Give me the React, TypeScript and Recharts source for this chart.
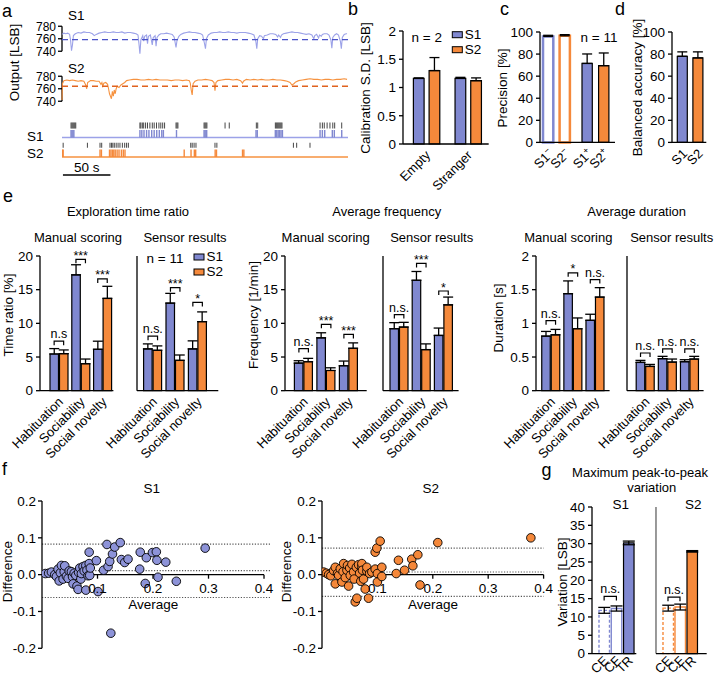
import React from "react";
import {
  Bar,
  Cell,
  ComposedChart,
  ErrorBar,
  Line,
  LineChart,
  ReferenceLine,
  Scatter,
  ScatterChart,
  XAxis,
  YAxis,
} from "recharts";

const FONT = "'Liberation Sans', Arial, sans-serif";
const S1_COLOR = "#8088d0";
const S2_COLOR = "#f5893b";
const S1_TRACE = "#9ca2e8";
const S2_TRACE = "#f6923f";

// ---- panel a: raw sensor output (time s, LSB) ----
const s1Trace: [number, number][] = [
  [0, 767], [2, 769], [4, 768], [6, 769], [8, 767], [9, 758], [10, 741], [11, 750], [12, 765], [14, 768],
  [17, 770], [20, 769], [23, 771], [26, 770], [29, 770], [32, 768], [34, 765], [36, 767], [39, 769], [42, 770],
  [45, 771], [48, 770], [51, 770], [54, 771], [57, 770], [60, 770], [63, 771], [66, 769], [69, 770], [72, 770],
  [75, 769], [78, 768], [80, 766], [81, 752], [82, 736], [83, 758], [85, 765], [86, 756], [87, 764], [89, 766],
  [90, 752], [91, 764], [93, 766], [95, 750], [96, 762], [98, 765], [99, 748], [100, 762], [102, 766], [104, 768],
  [107, 768], [110, 769], [113, 768], [116, 767], [118, 763], [120, 746], [121, 757], [123, 764], [125, 767], [128, 769],
  [131, 770], [134, 771], [137, 770], [140, 770], [143, 769], [146, 768], [148, 766], [150, 752], [151, 744], [152, 760],
  [154, 766], [157, 769], [160, 770], [163, 770], [166, 771], [169, 770], [172, 770], [175, 771], [178, 770], [181, 770],
  [184, 769], [187, 770], [190, 770], [193, 770], [196, 769], [199, 768], [202, 766], [204, 756], [205, 744], [206, 760],
  [208, 765], [210, 764], [212, 760], [213, 765], [216, 766], [219, 768], [222, 768], [225, 767], [227, 763], [228, 766],
  [230, 762], [231, 766], [233, 768], [236, 769], [239, 770], [242, 771], [245, 770], [248, 770], [251, 769], [254, 768],
  [257, 767], [260, 768], [263, 766], [265, 760], [266, 765], [268, 767], [270, 761], [271, 766], [273, 764], [274, 767],
  [276, 768], [279, 768], [281, 766], [283, 758], [284, 745], [285, 762], [287, 766], [289, 768], [291, 766], [293, 756],
  [294, 744], [295, 762], [297, 767], [299, 768], [300, 768],
];
const s2Trace: [number, number][] = [
  [0, 742], [0.5, 768], [2, 773], [5, 774], [8, 773], [11, 774], [14, 773], [17, 772], [20, 773], [23, 772],
  [25, 766], [26, 760], [27, 770], [30, 773], [33, 773], [36, 772], [39, 772], [41, 767], [42, 770], [43, 764],
  [44, 769], [46, 770], [48, 767], [49, 760], [50, 752], [51, 748], [52, 744], [53, 756], [54, 748], [55, 758],
  [56, 752], [57, 760], [58, 764], [60, 762], [62, 766], [64, 768], [66, 770], [68, 773], [71, 774], [75, 775],
  [79, 775], [83, 774], [87, 774], [91, 775], [95, 774], [99, 775], [103, 774], [107, 774], [111, 774], [115, 773],
  [119, 774], [123, 774], [127, 773], [131, 774], [134, 773], [135, 769], [136, 758], [137, 750], [138, 768], [140, 772],
  [143, 774], [147, 774], [151, 775], [155, 774], [158, 773], [160, 770], [161, 757], [162, 770], [164, 773], [168, 774],
  [172, 775], [176, 775], [180, 774], [184, 775], [188, 773], [190, 769], [191, 772], [194, 775], [198, 774], [202, 775],
  [206, 774], [210, 775], [214, 774], [218, 774], [222, 775], [226, 774], [230, 774], [234, 773], [237, 772], [240, 770],
  [242, 766], [244, 768], [246, 771], [249, 773], [253, 774], [257, 775], [261, 776], [265, 775], [269, 775], [273, 774],
  [277, 775], [281, 775], [285, 774], [289, 775], [293, 775], [297, 776], [300, 775],
];
const s1Threshold = 758.5;
const s2Threshold = 764;

const s1ManualEvents = [9.5, 10.5, 11.5, 12.5, 13.5, 14.5, 82, 83, 84.5, 86, 88, 90, 92.5, 95, 97, 99.5, 102, 104, 106, 108, 120, 121, 122, 149.5, 150.5, 151.5, 152.5, 171.6, 176, 204.5, 206, 224.5, 225.5, 226.5, 227.5, 228.5, 229.5, 230.5, 231.5, 271.6, 274, 276, 279, 282, 285, 287, 294.4];
const s1SensorEvents = [9.5, 10.5, 11.5, 12.5, 82, 84, 86.3, 89, 91.5, 94.4, 97, 99.7, 102.4, 105, 106.7, 120.5, 149.5, 150.5, 151.5, 152.3, 204.2, 205.5, 224.5, 226, 227.5, 229, 230.5, 232, 271.6, 274, 276.5, 284.5, 286.6, 294.4];
const s2ManualEvents = [1.2, 26.7, 40, 41.8, 50.5, 52, 53.5, 55, 57, 59, 61, 63.5, 66, 68, 69.8, 135.5, 137, 139, 141, 161, 163, 243.5, 247, 261];
const s2SensorEvents = [0.5, 1.2, 40, 41.5, 50, 51.5, 53, 54.5, 56, 58, 60, 62.5, 64.5, 66.3, 128.6, 135.8, 139.3, 140.7, 161.2, 162.6, 190, 191.4];

// ---- panel b: calibration S.D. ----
const calibCats = ["Empty", "Stranger"];
const calibS1 = [1.16, 1.16];
const calibS1Err = [0.01, 0.02];
const calibS2 = [1.3, 1.12];
const calibS2Err = [0.23, 0.05];

// ---- panel c: precision ----
const precCats = ["−", "+"];
const precS1 = [96, 71.5];
const precS1Err = [1, 8.6];
const precS2 = [96.6, 69.5];
const precS2Err = [1, 11.5];

// ---- panel d: balanced accuracy ----
const accCats = ["acc"];
const accS1 = [78];
const accS1Err = [4];
const accS2 = [76.5];
const accS2Err = [5.5];

// ---- panel e ----
const phases = ["Habituation", "Sociability", "Social novelty"];

const ratioManualS1 = [5.45, 17.2, 6.15];
const ratioManualS1Err = [0.8, 1.5, 1.2];
const ratioManualS2 = [5.5, 4.0, 13.7];
const ratioManualS2Err = [0.55, 0.7, 1.8];
const ratioManualBr = [7.35, 19.5, 16.6];
const ratioManualSig = ["n.s", "***", "***"];

const ratioSensorS1 = [6.2, 13.0, 6.2];
const ratioSensorS1Err = [0.75, 1.45, 1.2];
const ratioSensorS2 = [6.0, 4.5, 10.25];
const ratioSensorS2Err = [0.65, 0.8, 1.45];
const ratioSensorBr = [8.1, 15.3, 13.1];
const ratioSensorSig = ["n.s.", "***", "*"];

const freqManualS1 = [4.1, 7.85, 3.7];
const freqManualS1Err = [0.35, 0.75, 0.7];
const freqManualS2 = [4.3, 3.0, 6.3];
const freqManualS2Err = [0.5, 0.4, 0.8];
const freqManualBr = [6.26, 9.85, 8.35];
const freqManualSig = ["n.s.", "***", "***"];

const freqSensorS1 = [9.2, 16.4, 8.2];
const freqSensorS1Err = [0.9, 1.3, 1.1];
const freqSensorS2 = [9.45, 6.1, 12.75];
const freqSensorS2Err = [0.7, 0.85, 1.15];
const freqSensorBr = [11.3, 18.9, 14.8];
const freqSensorSig = ["n.s.", "***", "*"];

const durManualS1 = [0.81, 1.44, 1.045];
const durManualS1Err = [0.07, 0.19, 0.09];
const durManualS2 = [0.83, 0.92, 1.39];
const durManualS2Err = [0.08, 0.16, 0.14];
const durManualBr = [1.04, 1.75, 1.65];
const durManualSig = ["n.s.", "*", "n.s."];

const durSensorS1 = [0.42, 0.475, 0.43];
const durSensorS1Err = [0.03, 0.035, 0.03];
const durSensorS2 = [0.36, 0.425, 0.47];
const durSensorS2Err = [0.03, 0.045, 0.04];
const durSensorBr = [0.56, 0.62, 0.62];
const durSensorSig = ["n.s.", "n.s.", "n.s."];

// ---- panel f: Bland-Altman (average, difference) ----
const s1Agreement: [number, number][] = [
  [0.006, 0.003], [0.012, 0.004], [0.017, 0.007], [0.023, 0.0], [0.026, -0.005], [0.029, 0.015], [0.031, -0.017],
  [0.033, 0.005], [0.035, 0.025], [0.038, -0.012], [0.04, 0.008], [0.041, 0.024], [0.044, -0.004], [0.047, -0.01],
  [0.049, 0.01], [0.053, 0.008], [0.055, -0.006], [0.056, -0.025], [0.058, 0.004], [0.061, -0.002], [0.063, -0.031],
  [0.065, -0.04], [0.066, 0.006], [0.068, 0.018], [0.07, -0.012], [0.071, 0.003], [0.074, 0.022], [0.076, 0.01],
  [0.079, 0.025], [0.079, -0.042], [0.081, 0.012], [0.083, -0.003], [0.085, 0.03], [0.085, 0.061], [0.086, -0.002],
  [0.087, 0.018], [0.098, 0.038], [0.101, -0.046], [0.111, 0.012], [0.117, 0.082], [0.119, 0.022], [0.122, 0.036],
  [0.124, -0.159], [0.127, 0.056], [0.131, 0.075], [0.141, 0.087], [0.143, 0.041], [0.149, 0.033], [0.155, 0.042],
  [0.176, 0.015], [0.177, 0.061], [0.186, -0.024], [0.188, 0.046], [0.199, 0.06], [0.206, 0.062], [0.207, 0.039],
  [0.209, -0.007], [0.223, 0.034], [0.242, -0.018], [0.294, 0.072],
];
const s2Agreement: [number, number][] = [
  [0.003, 0.007], [0.008, 0.004], [0.012, 0.0], [0.016, -0.003], [0.021, 0.011], [0.024, 0.02], [0.024, -0.025],
  [0.028, 0.003], [0.03, -0.002], [0.033, 0.016], [0.036, -0.02], [0.038, 0.008], [0.039, 0.03], [0.042, -0.008],
  [0.045, 0.012], [0.046, 0.025], [0.048, -0.031], [0.05, 0.018], [0.051, -0.002], [0.054, 0.028], [0.057, 0.007],
  [0.058, -0.012], [0.06, -0.074], [0.062, 0.02], [0.063, -0.064], [0.066, 0.027], [0.068, 0.004], [0.07, -0.018],
  [0.072, 0.022], [0.072, 0.03], [0.073, 0.012], [0.075, -0.012], [0.078, -0.039], [0.081, 0.009], [0.081, 0.02],
  [0.084, -0.064], [0.086, 0.003], [0.09, 0.007], [0.096, 0.061], [0.096, 0.015], [0.099, 0.072], [0.1, 0.003],
  [0.1, -0.02], [0.105, 0.091], [0.108, 0.02], [0.108, -0.005], [0.134, 0.003], [0.138, 0.039], [0.149, 0.012],
  [0.162, 0.042], [0.164, 0.024], [0.173, 0.054], [0.177, -0.028], [0.209, 0.087], [0.377, 0.1],
];
const s1Limits = [0.083, 0.011, -0.062];
const s2Limits = [0.072, 0.007, -0.059];
const diffTicks = [-0.2, -0.1, 0, 0.1, 0.2];
const avgTicks = [0.1, 0.2, 0.3, 0.4];

// ---- panel g: peak-to-peak variation ----
const variationCats = ["CE", "CF", "TR"];
const variationS1 = [11.8, 12.3, 30.2];
const variationS1Err = [0.8, 0.7, 0.5];
const variationS2 = [12.4, 12.7, 27.9];
const variationS2Err = [0.8, 0.8, 0.2];
const variationBr = [15.6, 15.4];

const axisLine = { stroke: "#000", strokeWidth: 1.3 };
const tickLine = { stroke: "#000", strokeWidth: 1.3 };
const tickStyle = { fill: "#000", fontSize: 13.5, fontFamily: FONT };

type Rect = { x0: number; y0: number; x1: number; y1: number };

function groupRows(cats: string[], s1: number[], s1e: number[], s2: number[], s2e: number[], br?: number[], sig?: string[]) {
  return cats.map((name, i) => ({
    name,
    s1: s1[i],
    s1e: [0, s1e[i]],
    s2: s2[i],
    s2e: [0, s2e[i]],
    br: br ? br[i] : null,
    sig: sig ? sig[i] : "",
  }));
}

function Bracket(props: any) {
  const { cx, cy, payload, a, b } = props;
  if (cx == null || cy == null || Number.isNaN(cy) || !payload?.sig) return null;
  const stars = payload.sig.includes("*");
  const mid = cx + (a + b) / 2;
  return (
    <g>
      <path d={`M${cx + a},${cy + 4}V${cy}H${cx + b}V${cy + 4}`} fill="none" stroke="#000" strokeWidth={1.2} />
      <text x={mid} y={stars ? cy + 0.5 : cy - 3} textAnchor="middle" fontSize={12.5} fontFamily={FONT} fill="#000">
        {payload.sig}
      </text>
    </g>
  );
}

function RotTick(props: any) {
  const { x, y, payload, oy = 12 } = props;
  return (
    <text transform={`translate(${x + 5},${y + oy}) rotate(-45)`} textAnchor="end" fontSize={13} fontFamily={FONT} fill="#000">
      {payload.value}
    </text>
  );
}

function PairTick(props: any) {
  const { x, y, payload, half, sup } = props;
  return (
    <g>
      {["S1", "S2"].map((l, i) => (
        <text key={l} transform={`translate(${x + (i ? half : -half) + 6},${y + 12}) rotate(-45)`} textAnchor="end" fontSize={13} fontFamily={FONT} fill="#000">
          {l}
          {sup && <tspan dy={-5} fontSize={9}>{payload.value}</tspan>}
        </text>
      ))}
    </g>
  );
}

function GroupBars({ rect, rows, yMax, yTicks, showLabels = true, padL, padR, barSize, barGap, tick, cells, brackets = true }: any) {
  const YW = 52, TM = 30, RM = 16, XH = 90;
  const w = rect.x1 - rect.x0 + YW + RM;
  const h = rect.y1 - rect.y0 + TM + XH;
  const half = (barSize + barGap) / 2;
  return (
    <div style={{ position: "absolute", left: rect.x0 - YW, top: rect.y0 - TM }}>
      <ComposedChart width={w} height={h} data={rows} margin={{ top: TM, right: RM, bottom: 0, left: 0 }} barSize={barSize} barGap={barGap}>
        <XAxis dataKey="name" height={XH} padding={{ left: padL, right: padR }} axisLine={axisLine} tickLine={false} tickSize={0} tickMargin={0} interval={0} tick={tick ?? <RotTick />} />
        <YAxis width={YW} domain={[0, yMax]} ticks={yTicks} interval={0} axisLine={axisLine} tickLine={tickLine} tickSize={4} tickMargin={3} tick={showLabels ? tickStyle : false} />
        <Bar dataKey="s1" fill={S1_COLOR} stroke="#000" strokeWidth={1.2} isAnimationActive={false}>
          {cells && rows.map((_: any, i: number) => <Cell key={i} {...cells(0, i)} />)}
          <ErrorBar dataKey="s1e" width={5} stroke="#000" strokeWidth={1.3} direction="y" />
        </Bar>
        <Bar dataKey="s2" fill={S2_COLOR} stroke="#000" strokeWidth={1.2} isAnimationActive={false}>
          {cells && rows.map((_: any, i: number) => <Cell key={i} {...cells(1, i)} />)}
          <ErrorBar dataKey="s2e" width={5} stroke="#000" strokeWidth={1.3} direction="y" />
        </Bar>
        {brackets && <Scatter dataKey="br" isAnimationActive={false} shape={(p: any) => <Bracket {...p} a={-half} b={half} />} />}
      </ComposedChart>
    </div>
  );
}

function VariationBars({ rect, values, errs, color, br, padL, padR, showLabels }: any) {
  const YW = 52, TM = 30, RM = 16, XH = 40;
  const w = rect.x1 - rect.x0 + YW + RM;
  const h = rect.y1 - rect.y0 + TM + XH;
  const spacing = (rect.x1 - rect.x0 - padL - padR) / variationCats.length;
  const rows = variationCats.map((name, i) => ({ name, v: values[i], e: errs[i], br: i === 0 ? br : null, sig: i === 0 ? "n.s." : "" }));
  return (
    <div style={{ position: "absolute", left: rect.x0 - YW, top: rect.y0 - TM }}>
      <ComposedChart width={w} height={h} data={rows} margin={{ top: TM, right: RM, bottom: 0, left: 0 }} barSize={10.5}>
        <XAxis dataKey="name" height={XH} padding={{ left: padL, right: padR }} axisLine={axisLine} tickLine={false} tickSize={0} tickMargin={0} interval={0} tick={<RotTick oy={8} />} />
        <YAxis width={YW} domain={[0, 40]} ticks={[0, 5, 10, 15, 20, 25, 30, 35, 40]} interval={0} axisLine={{ stroke: "#000", strokeWidth: showLabels ? 1.3 : 0.8 }} tickLine={showLabels ? tickLine : false} tickSize={4} tickMargin={3} tick={showLabels ? tickStyle : false} />
        <Bar dataKey="v" isAnimationActive={false}>
          <Cell fill="#fff" stroke={color} strokeWidth={1.4} strokeDasharray="3 2" />
          <Cell fill="#fff" stroke={color} strokeWidth={1.4} />
          <Cell fill={color} stroke="#000" strokeWidth={1.2} />
          <ErrorBar dataKey="e" width={6} stroke="#000" strokeWidth={1.3} direction="y" />
        </Bar>
        <Scatter dataKey="br" isAnimationActive={false} shape={(p: any) => <Bracket {...p} a={0} b={spacing} />} />
      </ComposedChart>
    </div>
  );
}

function DiffPlot({ rect, xMax, pts, color, limits }: any) {
  const YW = 50, TM = 10, RM = 10, BM = 30;
  const w = rect.x1 - rect.x0 + YW + RM;
  const h = rect.y1 - rect.y0 + TM + BM;
  const data = pts.map(([avg, diff]: [number, number]) => ({ avg, diff }));
  return (
    <div style={{ position: "absolute", left: rect.x0 - YW, top: rect.y0 - TM }}>
      <ScatterChart width={w} height={h} margin={{ top: TM, right: RM, bottom: BM, left: 0 }}>
        <XAxis type="number" dataKey="avg" domain={[0, xMax]} allowDataOverflow hide />
        <YAxis type="number" dataKey="diff" domain={[-0.2, 0.2]} ticks={diffTicks} interval={0} tickFormatter={(v: number) => v.toFixed(1)} width={YW} axisLine={axisLine} tickLine={tickLine} tickSize={4} tickMargin={2} tick={tickStyle} />
        {limits.map((v: number) => (
          <ReferenceLine key={v} y={v} stroke="#555" strokeDasharray="1.2 1.6" strokeWidth={1.1} />
        ))}
        <ReferenceLine segment={[{ x: 0, y: 0 }, { x: 0.4, y: 0 }]} stroke="#000" strokeWidth={1.3} />
        {avgTicks.map((v) => (
          <ReferenceLine
            key={v}
            segment={[{ x: v, y: 0 }, { x: v, y: -0.011 }]}
            stroke="#000"
            strokeWidth={1.3}
            label={{ value: v.toFixed(1), position: "bottom", offset: 5, fill: "#000", fontSize: 13.5, fontFamily: FONT }}
          />
        ))}
        <Scatter data={data} isAnimationActive={false} shape={(p: any) => <circle cx={p.cx} cy={p.cy} r={4.3} fill={color} stroke="#000" strokeWidth={0.9} />} />
      </ScatterChart>
    </div>
  );
}

function TracePlot({ rect, pts, color, dashColor, threshold }: any) {
  const YW = 40, TM = 9, RM = 2, BM = 9;
  const w = rect.x1 - rect.x0 + YW + RM;
  const h = rect.y1 - rect.y0 + TM + BM;
  const data = pts.map(([t, v]: [number, number]) => ({ t, v }));
  return (
    <div style={{ position: "absolute", left: rect.x0 - YW, top: rect.y0 - TM }}>
      <LineChart width={w} height={h} data={data} margin={{ top: TM, right: RM, bottom: BM, left: 0 }}>
        <XAxis type="number" dataKey="t" domain={[0, 301]} hide />
        <YAxis
          type="number"
          domain={[734, 782]}
          ticks={[740, 760, 780]}
          interval={0}
          allowDataOverflow
          width={YW}
          axisLine={false}
          tickLine={tickLine}
          tickSize={4}
          tickMargin={2}
          tick={{ ...tickStyle, fontSize: 12 }}
        />
        <ReferenceLine segment={[{ x: 0, y: 740 }, { x: 0, y: 780 }]} stroke="#000" strokeWidth={1.3} />
        <Line dataKey="v" type="linear" stroke={color} strokeWidth={1.1} dot={false} isAnimationActive={false} />
        <ReferenceLine y={threshold} stroke={dashColor} strokeDasharray="6 4" strokeWidth={1.3} />
      </LineChart>
    </div>
  );
}

function eventShape(color: string, width: number, height: number) {
  return (p: any) => <rect x={p.cx - width / 2} y={p.cy - height / 2} width={width} height={height} fill={color} />;
}

function Raster({ rect }: { rect: Rect }) {
  const w = rect.x1 - rect.x0;
  const h = rect.y1 - rect.y0;
  return (
    <div style={{ position: "absolute", left: rect.x0, top: rect.y0 }}>
      <ScatterChart width={w} height={h} margin={{ top: 0, right: 0, bottom: 0, left: 0 }}>
        <XAxis type="number" dataKey="t" domain={[0, 301]} hide />
        <YAxis type="number" dataKey="y" domain={[-20, 40]} hide />
        <ReferenceLine segment={[{ x: 0, y: 22.5 }, { x: 301, y: 22.5 }]} stroke={S1_TRACE} strokeWidth={1.3} />
        <ReferenceLine segment={[{ x: 0, y: 3 }, { x: 301, y: 3 }]} stroke={S2_TRACE} strokeWidth={1.3} />
        <ReferenceLine
          segment={[{ x: 1, y: -15 }, { x: 51, y: -15 }]}
          stroke="#000"
          strokeWidth={1.3}
          label={{ value: "50 s", position: "top", offset: 3, fill: "#000", fontSize: 13.5, fontFamily: FONT }}
        />
        <Scatter data={s1ManualEvents.map((t) => ({ t, y: 34.5 }))} isAnimationActive={false} shape={eventShape("#333", 0.9, 6)} />
        <Scatter data={s1SensorEvents.map((t) => ({ t, y: 26.25 }))} isAnimationActive={false} shape={eventShape(S1_COLOR, 1.4, 7.5)} />
        <Scatter data={s2ManualEvents.map((t) => ({ t, y: 14.75 }))} isAnimationActive={false} shape={eventShape("#333", 0.9, 5)} />
        <Scatter data={s2SensorEvents.map((t) => ({ t, y: 6.75 }))} isAnimationActive={false} shape={eventShape(S2_COLOR, 1.4, 7.5)} />
      </ScatterChart>
    </div>
  );
}

function Txt({ x, y, s, size = 13, anchor = "middle", rot = false }: any) {
  return (
    <text
      x={rot ? 0 : x}
      y={rot ? 0 : y}
      transform={rot ? `translate(${x},${y}) rotate(-90)` : undefined}
      textAnchor={anchor}
      fontSize={size}
      fontFamily={FONT}
      fill="#000"
    >
      {s}
    </text>
  );
}

function LegendKey({ x, y }: { x: number; y: number }) {
  return (
    <g>
      <rect x={x} y={y} width={10} height={6} fill={S1_COLOR} stroke="#000" strokeWidth={1} />
      <Txt x={x + 12.5} y={y + 7} s="S1" size={13.5} anchor="start" />
      <rect x={x} y={y + 15} width={10} height={6} fill={S2_COLOR} stroke="#000" strokeWidth={1} />
      <Txt x={x + 12.5} y={y + 22} s="S2" size={13.5} anchor="start" />
    </g>
  );
}

function Overlay() {
  return (
    <svg width={717} height={677} style={{ position: "absolute", left: 0, top: 0, pointerEvents: "none" }}>
      {/* panel letters */}
      <Txt x={2} y={16.5} s="a" size={18} anchor="start" />
      <Txt x={348} y={15} s="b" size={18} anchor="start" />
      <Txt x={500} y={15} s="c" size={18} anchor="start" />
      <Txt x={615} y={15} s="d" size={18} anchor="start" />
      <Txt x={3} y={201.5} s="e" size={18} anchor="start" />
      <Txt x={2} y={475} s="f" size={18} anchor="start" />
      <Txt x={541.5} y={476} s="g" size={18} anchor="start" />

      {/* a */}
      <Txt x={68} y={20} s="S1" size={13.5} anchor="start" />
      <Txt x={68} y={73} s="S2" size={13.5} anchor="start" />
      <Txt x={19} y={62.5} s="Output [LSB]" size={13.5} rot />
      <Txt x={43.5} y={140.5} s="S1" size={13.5} anchor="end" />
      <Txt x={43.5} y={157.5} s="S2" size={13.5} anchor="end" />

      {/* b, c, d */}
      <Txt x={370.4} y={88} s="Calibration S.D. [LSB]" size={13.5} rot />
      <Txt x={426.7} y={41.5} s="n = 2" size={13.5} />
      <LegendKey x={452.3} y={31.7} />
      <Txt x={507} y={88} s="Precision [%]" size={13.5} rot />
      <Txt x={599} y={41.5} s="n = 11" size={13.5} />
      <Txt x={642} y={87.5} s="Balanced accuracy [%]" size={13.5} rot />

      {/* e */}
      <Txt x={128} y={216} s="Exploration time ratio" />
      <Txt x={386.7} y={216} s="Average frequency" />
      <Txt x={636.7} y={216} s="Average duration" />
      <Txt x={78} y={242} s="Manual scoring" />
      <Txt x={185} y={242} s="Sensor results" />
      <Txt x={325.7} y={242} s="Manual scoring" />
      <Txt x={431.7} y={242} s="Sensor results" />
      <Txt x={568.3} y={242} s="Manual scoring" />
      <Txt x={671.7} y={242} s="Sensor results" />
      <Txt x={13} y={315} s="Time ratio [%]" size={13.5} rot />
      <Txt x={258.4} y={315} s="Frequency [1/min]" size={13.5} rot />
      <Txt x={503} y={318} s="Duration [s]" size={13.5} rot />
      <Txt x={165} y={263.3} s="n = 11" size={13.5} />
      <LegendKey x={194} y={254} />

      {/* f */}
      <Txt x={151.7} y={493} s="S1" size={13.5} />
      <Txt x={430.7} y={493} s="S2" size={13.5} />
      <Txt x={153.3} y={609} s="Average" size={13.5} />
      <Txt x={433} y={609} s="Average" size={13.5} />
      <Txt x={12.3} y={571.7} s="Difference" size={13.5} rot />
      <Txt x={291.3} y={571.7} s="Difference" size={13.5} rot />

      {/* g */}
      <Txt x={640} y={477} s="Maximum peak-to-peak" />
      <Txt x={651.7} y={492} s="variation" />
      <Txt x={620.7} y={509} s="S1" size={13.5} />
      <Txt x={693.3} y={509} s="S2" size={13.5} />
      <Txt x={566.6} y={582} s="Variation [LSB]" size={13.5} rot />
    </svg>
  );
}

const E_TOP = 256.3;
const E_BOTTOM = 391;
const ratioTicks = [0, 5, 10, 15, 20];
const durTicks = [0, 0.5, 1, 1.5, 2];

export default function App() {
  const ePanels = [
    { rect: { x0: 40, y0: E_TOP, x1: 113.4, y1: E_BOTTOM }, pad: [8, 0], labels: true, yMax: 20, ticks: ratioTicks,
      rows: groupRows(phases, ratioManualS1, ratioManualS1Err, ratioManualS2, ratioManualS2Err, ratioManualBr, ratioManualSig) },
    { rect: { x0: 136.7, y0: E_TOP, x1: 218, y1: E_BOTTOM }, pad: [4.6, 9.5], labels: false, yMax: 20, ticks: ratioTicks,
      rows: groupRows(phases, ratioSensorS1, ratioSensorS1Err, ratioSensorS2, ratioSensorS2Err, ratioSensorBr, ratioSensorSig) },
    { rect: { x0: 285, y0: E_TOP, x1: 366.7, y1: E_BOTTOM }, pad: [7.4, 6.8], labels: true, yMax: 20, ticks: ratioTicks,
      rows: groupRows(phases, freqManualS1, freqManualS1Err, freqManualS2, freqManualS2Err, freqManualBr, freqManualSig) },
    { rect: { x0: 382.7, y0: E_TOP, x1: 458.3, y1: E_BOTTOM }, pad: [5, 4], labels: false, yMax: 20, ticks: ratioTicks,
      rows: groupRows(phases, freqSensorS1, freqSensorS1Err, freqSensorS2, freqSensorS2Err, freqSensorBr, freqSensorSig) },
    { rect: { x0: 535.7, y0: E_TOP, x1: 609.3, y1: E_BOTTOM }, pad: [3.75, 3.5], labels: true, yMax: 2, ticks: durTicks,
      rows: groupRows(phases, durManualS1, durManualS1Err, durManualS2, durManualS2Err, durManualBr, durManualSig) },
    { rect: { x0: 626.7, y0: E_TOP, x1: 703.3, y1: E_BOTTOM }, pad: [7.2, 3], labels: false, yMax: 2, ticks: durTicks,
      rows: groupRows(phases, durSensorS1, durSensorS1Err, durSensorS2, durSensorS2Err, durSensorBr, durSensorSig) },
  ];

  const precCells = (series: number, i: number) => {
    const color = series === 0 ? S1_COLOR : S2_COLOR;
    return i === 0 ? { fill: "#fff", stroke: color, strokeWidth: 2.5 } : { fill: color, stroke: "#000", strokeWidth: 1.2 };
  };

  return (
    <div style={{ position: "absolute", left: 0, top: 0, width: 717, height: 677, background: "#fff", overflow: "hidden" }}>
      <TracePlot rect={{ x0: 62, y0: 24.75, x1: 348, y1: 54.75 }} pts={s1Trace} color={S1_TRACE} dashColor="#4a52c8" threshold={s1Threshold} />
      <TracePlot rect={{ x0: 62, y0: 74.75, x1: 348, y1: 104.75 }} pts={s2Trace} color={S2_TRACE} dashColor="#e0621e" threshold={s2Threshold} />
      <Raster rect={{ x0: 62, y0: 120, x1: 348, y1: 180 }} />

      <GroupBars
        rect={{ x0: 403.3, y0: 31, x1: 489, y1: 144 }}
        rows={groupRows(calibCats, calibS1, calibS1Err, calibS2, calibS2Err)}
        yMax={2}
        yTicks={[0, 0.5, 1, 1.5, 2]}
        padL={2.4}
        padR={0}
        barSize={10.7}
        barGap={5}
        brackets={false}
      />
      <GroupBars
        rect={{ x0: 540, y0: 32.3, x1: 615, y1: 142.7 }}
        rows={groupRows(precCats, precS1, precS1Err, precS2, precS2Err)}
        yMax={100}
        yTicks={[0, 20, 40, 60, 80, 100]}
        padL={-3}
        padR={0}
        barSize={10.3}
        barGap={6.3}
        cells={precCells}
        tick={<PairTick half={8.3} sup />}
        brackets={false}
      />
      <GroupBars
        rect={{ x0: 671.7, y0: 32.3, x1: 706, y1: 142.7 }}
        rows={groupRows(accCats, accS1, accS1Err, accS2, accS2Err)}
        yMax={100}
        yTicks={[0, 20, 40, 60, 80, 100]}
        padL={1.3}
        padR={0}
        barSize={10}
        barGap={5.6}
        tick={<PairTick half={7.8} sup={false} />}
        brackets={false}
      />

      {ePanels.map((p, i) => (
        <GroupBars
          key={i}
          rect={p.rect}
          rows={p.rows}
          yMax={p.yMax}
          yTicks={p.ticks}
          showLabels={p.labels}
          padL={p.pad[0]}
          padR={p.pad[1]}
          barSize={8.5}
          barGap={1}
        />
      ))}

      <DiffPlot rect={{ x0: 42.3, y0: 501, x1: 271.7, y1: 648.3 }} xMax={0.4133} pts={s1Agreement} color="#8d93d8" limits={s1Limits} />
      <DiffPlot rect={{ x0: 321.7, y0: 501, x1: 543.3, y1: 648.3 }} xMax={0.4} pts={s2Agreement} color="#f5883a" limits={s2Limits} />

      <VariationBars rect={{ x0: 591.7, y0: 506.7, x1: 636, y1: 653.3 }} values={variationS1} errs={variationS1Err} color={S1_COLOR} br={variationBr[0]} padL={6} padR={1.5} showLabels />
      <VariationBars rect={{ x0: 656, y0: 506.7, x1: 706.7, y1: 653.3 }} values={variationS2} errs={variationS2Err} color={S2_COLOR} br={variationBr[1]} padL={6} padR={8.7} showLabels={false} />

      <Overlay />
    </div>
  );
}
